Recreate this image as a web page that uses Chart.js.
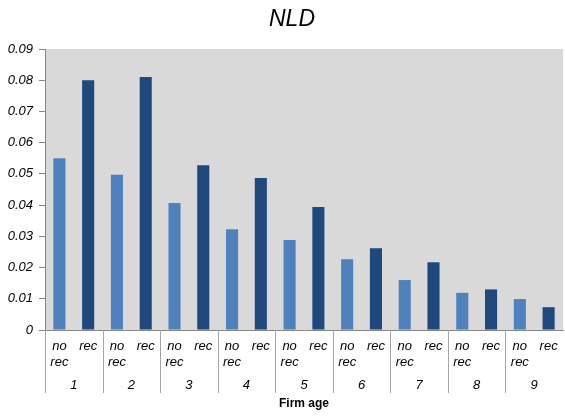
<!DOCTYPE html>
<html>
<head>
<meta charset="utf-8">
<script src="https://cdn.jsdelivr.net/npm/chart.js@4/dist/chart.umd.min.js"></script>
<style>
  html, body { margin: 0; padding: 0; background: #fff; }
  #wrap { width: 565px; height: 416px; }
</style>
</head>
<body>
<div id="wrap"><canvas id="nldChart" width="565" height="416"></canvas></div>
<script>
// Firm age groups and the two bars in each
const ages = ['1', '2', '3', '4', '5', '6', '7', '8', '9'];
const barNames = [['no', 'rec'], ['rec']];
const noRec = [0.055, 0.0497, 0.0407, 0.0323, 0.0288, 0.0227, 0.016, 0.0119, 0.0099];
const rec = [0.080, 0.081, 0.0528, 0.0487, 0.0394, 0.0262, 0.0217, 0.013, 0.0073];
const barColors = ['#4f81bd', '#1f497d'];
const yMax = 0.09;
const yStep = 0.01;

// Interleave into one category axis: no rec, rec, no rec, rec ...
const labels = [];
const values = [];
const colors = [];
ages.forEach((a, i) => {
    labels.push(barNames[0], barNames[1]);
    values.push(noRec[i], rec[i]);
    colors.push(barColors[0], barColors[1]);
});

const FONT = '"Liberation Sans", Arial, sans-serif';

// Gray plot background, title, group separators and group labels
const excelBits = {
    id: 'excelBits',
    beforeDraw(chart) {
        const { ctx, chartArea: a } = chart;
        ctx.save();
        ctx.fillStyle = '#d9d9d9';
        ctx.fillRect(a.left, a.top, a.right - a.left, a.bottom - a.top);
        ctx.restore();
    },
    afterDraw(chart) {
        const { ctx, chartArea: a } = chart;
        const x = chart.scales.x;
        const half = (x.getPixelForValue(1) - x.getPixelForValue(0)) / 2;
        ctx.save();
        // title
        ctx.fillStyle = '#000';
        ctx.font = 'italic 23px ' + FONT;
        ctx.textAlign = 'center';
        ctx.textBaseline = 'middle';
        ctx.fillText('NLD', 292, 20);
        // separators between age groups
        ctx.strokeStyle = '#a6a6a6';
        ctx.lineWidth = 1;
        for (let g = 0; g < ages.length; g++) {
            const px = Math.round(x.getPixelForValue(g * 2) - half) + 0.5;
            ctx.beginPath();
            ctx.moveTo(px, a.bottom);
            ctx.lineTo(px, 393);
            ctx.stroke();
        }
        // age numbers
        ctx.fillStyle = '#000';
        ctx.font = 'italic 13px ' + FONT;
        ages.forEach((age, g) => {
            const cx = (x.getPixelForValue(g * 2) + x.getPixelForValue(g * 2 + 1)) / 2;
            ctx.fillText(age, cx, 385);
        });
        // axis title
        ctx.font = 'bold 12px ' + FONT;
        ctx.fillText('Firm age', (a.left + a.right) / 2, 404);
        ctx.restore();
    }
};

new Chart(document.getElementById('nldChart'), {
    type: 'bar',
    data: {
        labels: labels,
        datasets: [{
            label: 'NLD',
            data: values,
            backgroundColor: colors,
            borderWidth: 0,
            barPercentage: 0.42,
            categoryPercentage: 1
        }]
    },
    options: {
        responsive: false,
        animation: false,
        layout: { padding: { top: 49, right: 2, left: 0, bottom: 0 } },
        plugins: {
            legend: { display: false },
            title: { display: false },
            tooltip: { enabled: false }
        },
        scales: {
            x: {
                grid: { display: false },
                border: { color: '#868686' },
                ticks: {
                    color: '#000',
                    font: { family: FONT, size: 13, style: 'italic', lineHeight: 1.27 },
                    padding: 0,
                    maxRotation: 0,
                    autoSkip: false
                },
                afterFit(scale) { scale.height = 86; }
            },
            y: {
                min: 0,
                max: yMax,
                grid: { drawOnChartArea: false, color: '#868686', tickLength: 6 },
                border: { color: '#868686' },
                ticks: {
                    stepSize: yStep,
                    color: '#000',
                    font: { family: FONT, size: 13, style: 'italic' },
                    padding: 6,
                    callback: v => (v === 0 ? '0' : v.toFixed(2))
                },
                afterFit(scale) { scale.width = 45; }
            }
        }
    },
    plugins: [excelBits]
});
</script>
</body>
</html>
